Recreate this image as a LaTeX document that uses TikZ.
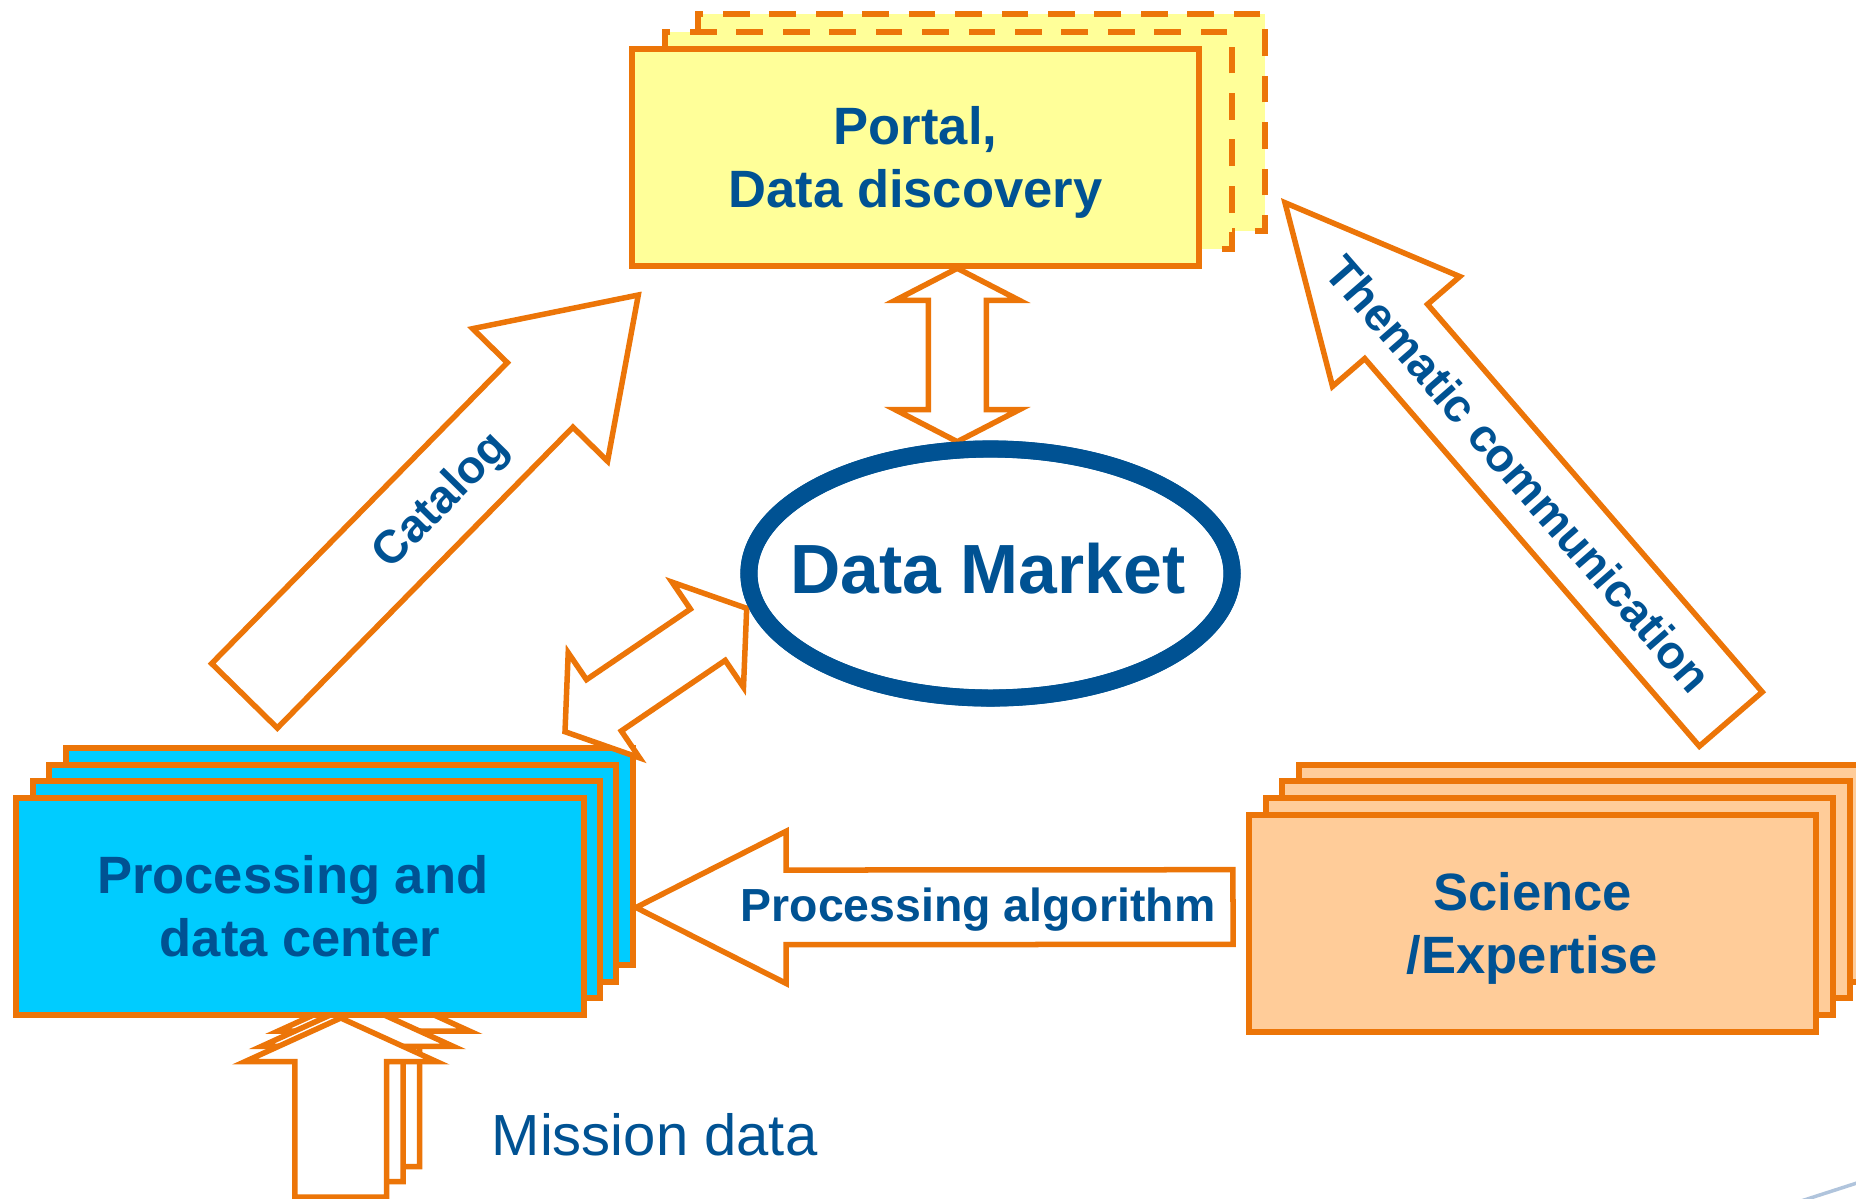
\documentclass[tikz,border=0pt]{standalone}
\usepackage{fontspec}
\setmainfont{Liberation Sans}
\usetikzlibrary{calc,shapes.geometric}

\definecolor{edgeorange}{RGB}{236,117,8}
\definecolor{labelblue}{RGB}{0,82,147}
\definecolor{portalyellow}{RGB}{255,255,153}
\definecolor{centercyan}{RGB}{0,204,255}
\definecolor{sciencepeach}{RGB}{255,204,153}
\definecolor{cornerline}{RGB}{176,196,220}

% strut from descender depth to ascender height plus descender,
% so a label node centres on its capitals
\newcommand\lblstrut{\rule[-0.21em]{0pt}{1.136em}}

% hollow block arrow: #1 name, #2 tail, #3 tip,
% #4 shaft half-width, #5 head half-width, #6 head length
\newcommand\blockarrow[6]{%
  \coordinate (#1-hb) at ($(#3)!#6!(#2)$);
  \draw[arrowbody]
    ($(#2)!#4!90:(#3)$) -- ($(#1-hb)!#4!90:(#3)$) -- ($(#1-hb)!#5!90:(#3)$)
    -- (#3)
    -- ($(#1-hb)!#5!-90:(#3)$) -- ($(#1-hb)!#4!-90:(#3)$) -- ($(#2)!#4!-90:(#3)$)
    -- cycle;}

% two-headed block arrow: #1 name, #2 and #3 tips, then as above
\newcommand\doubleblockarrow[6]{%
  \coordinate (#1-ha) at ($(#2)!#6!(#3)$);
  \coordinate (#1-hb) at ($(#3)!#6!(#2)$);
  \draw[arrowbody]
    (#2) -- ($(#1-ha)!#5!90:(#3)$) -- ($(#1-ha)!#4!90:(#3)$)
    -- ($(#1-hb)!#4!-90:(#2)$) -- ($(#1-hb)!#5!-90:(#2)$)
    -- (#3) -- ($(#1-hb)!#5!90:(#2)$) -- ($(#1-hb)!#4!90:(#2)$)
    -- ($(#1-ha)!#4!-90:(#3)$) -- ($(#1-ha)!#5!-90:(#3)$)
    -- cycle;}

\begin{document}
\begin{tikzpicture}[x=0.01cm, y=-0.01cm,
  stackbox/.style={rectangle, draw=edgeorange, line width=0.06cm,
    minimum width=5.67cm, minimum height=2.17cm, inner sep=0pt},
  portalbox/.style={stackbox, fill=portalyellow},
  portalback/.style={portalbox, dash pattern=on 0.267cm off 0.197cm},
  centerbox/.style={stackbox, fill=centercyan},
  sciencebox/.style={stackbox, fill=sciencepeach},
  boxlabel/.style={font=\fontsize{14.94pt}{17.93pt}\selectfont\bfseries,
    text=labelblue, align=center},
  arrowbody/.style={draw=edgeorange, fill=white, line width=0.055cm},
  arrowlabel/.style={font=\fontsize{13.2pt}{15.8pt}\selectfont\bfseries,
    text=labelblue, inner sep=0pt}]

\useasboundingbox (0,0) rectangle (1856,1199);
\clip (0,0) rectangle (1856,1199);

% portal: two dashed copies behind the front card
\node[portalback] (portal-3) at (981.5,122.9) {};
\node[portalback] (portal-2) at (948.5,140.2) {};
\node[portalbox, boxlabel] (portal) at (915.5,157.5)
  {\lblstrut Portal,\\\lblstrut Data discovery};

% science / expertise stack
\node[sciencebox] (science-4) at (1582.6,873.1) {};
\node[sciencebox] (science-3) at (1565.9,889.9) {};
\node[sciencebox] (science-2) at (1549.2,906.7) {};
\node[sciencebox, boxlabel] (science) at (1532.5,923.5)
  {\lblstrut Science\\\lblstrut /Expertise};

% mission data feeds, partly hidden under the centre stack
\coordinate (mis3-s) at (373.8,1166.5); \coordinate (mis3-e) at (373.8,987.5);
\coordinate (mis2-s) at (357.3,1181.7); \coordinate (mis2-e) at (357.3,1002.7);
\coordinate (mis1-s) at (340.8,1197.0); \coordinate (mis1-e) at (340.8,1018.0);
\blockarrow{mis3}{mis3-s}{mis3-e}{0.458cm}{0.96cm}{0.437cm}
\blockarrow{mis2}{mis2-s}{mis2-e}{0.458cm}{0.96cm}{0.437cm}
\blockarrow{mis1}{mis1-s}{mis1-e}{0.458cm}{0.96cm}{0.437cm}

% processing and data centre stack
\node[centerbox] (center-4) at (349.2,856.4) {};
\node[centerbox] (center-3) at (332.8,873.1) {};
\node[centerbox] (center-2) at (316.4,889.8) {};
\node[centerbox, boxlabel] (center) at (300,906.5)
  {\lblstrut Processing and\hspace*{0.278em}\\\lblstrut data center};

% data market
\node[ellipse, draw=labelblue, line width=0.17cm, minimum width=4.83cm,
  minimum height=2.49cm, inner sep=0pt] (market) at (990.5,573.5) {};

% exchanges between the blocks
\coordinate (cm-a) at (565,731.7);   \coordinate (cm-b) at (746.7,608.3);
\doubleblockarrow{cm}{cm-a}{cm-b}{0.31cm}{0.635cm}{0.47cm}

\coordinate (pm-a) at (957.3,268.3); \coordinate (pm-b) at (957.3,441.7);
\doubleblockarrow{pm}{pm-a}{pm-b}{0.29cm}{0.62cm}{0.32cm}

\coordinate (cat-s) at (244.5,695.8); \coordinate (cat-e) at (638.3,295);
\blockarrow{cat}{cat-s}{cat-e}{0.46cm}{0.945cm}{1.40cm}

\coordinate (thm-s) at (1730.8,719.1); \coordinate (thm-e) at (1285,202.7);
\blockarrow{thm}{thm-s}{thm-e}{0.415cm}{0.84cm}{1.70cm}

\coordinate (alg-s) at (1233,907); \coordinate (alg-e) at (636,907.5);
\blockarrow{alg}{alg-s}{alg-e}{0.373cm}{0.76cm}{1.50cm}

% redraw the market outline above the arrow tips
\draw[labelblue, line width=0.17cm] (market.center) ellipse [x radius=241.5, y radius=124.5];

% labels
\node[font=\fontsize{19.8pt}{24pt}\selectfont\bfseries, text=labelblue,
  inner sep=0pt] (market-label) at (988,569) {\lblstrut Data Market};
\node[arrowlabel] (alg-label) at (978,905) {\lblstrut Processing algorithm};
\node[arrowlabel, rotate=45.5] (cat-label) at ($(cat-s)!0.493!(cat-e)$)
  {\lblstrut Catalog};
\node[arrowlabel, rotate=-49] (thm-label) at ($(thm-s)!0.475!(thm-e)$)
  {\lblstrut Thematic communication};
\node[font=\fontsize{16.5pt}{20pt}\selectfont, text=labelblue,
  anchor=base west, inner sep=0pt] (mission) at (491,1155) {Mission data};

% faint stroke in the lower right corner
\draw[cornerline, line width=0.035cm] (1798,1202) -- (1860,1182);
\end{tikzpicture}
\end{document}
